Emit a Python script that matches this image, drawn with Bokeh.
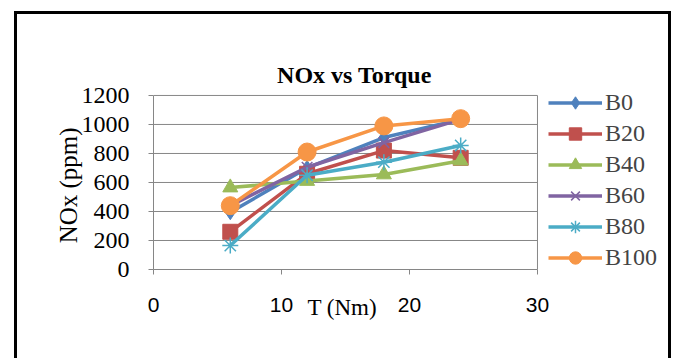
from bokeh.plotting import figure
from bokeh.models import (Legend, LegendItem, Range1d, FixedTicker, InlineStyleSheet,
                          Label, LinearAxis)
from bokeh.embed import file_html
from bokeh.resources import INLINE

torque = [6, 12, 18, 24]
series_names = ["B0", "B20", "B40", "B60", "B80", "B100"]
b0 = [395, 700, 910, 1035]
b20 = [260, 660, 820, 770]
b40 = [565, 610, 655, 750]
b60 = [440, 705, 875, 1035]
b80 = [165, 650, 740, 855]
b100 = [440, 810, 990, 1040]
y_ticks = [0, 200, 400, 600, 800, 1000, 1200]
x_ticks = [0, 10, 20, 30]
x_min, x_max = 0, 30
y_min, y_max = 0, 1200
x_label_pos = 14.75
y_label_pos = 580

colors = ["#4F81BD", "#C0504D", "#9BBB59", "#8064A2", "#4BACC6", "#F79646"]
markers = ["diamond", "square", "triangle", "x", "asterisk", "circle"]
msizes = [15, 15, 15, 15, 16, 18]
mline = [1, 1, 1, 1.5, 1.5, 1]
data = [b0, b20, b40, b60, b80, b100]

# frame: left 153, right 672 (x=30 lands at 537); top 50, bottom 269 (y=1200 lands at 95)
p = figure(width=676, height=358, output_backend="svg", toolbar_location=None,
           x_range=Range1d(0, 40.55), y_range=Range1d(0, 1510),
           min_border_left=153, min_border_right=4, min_border_top=50, min_border_bottom=89)

p.stylesheets = [InlineStyleSheet(css="""
:host { position: relative; }
:host::after {
  content: ""; position: absolute; left: 14px; top: 11px;
  width: 657px; height: 347px; box-sizing: border-box;
  border-top: 3px solid black; border-left: 3px solid black; border-right: 3px solid black;
  pointer-events: none;
}
""")]

p.outline_line_color = None
p.background_fill_color = "white"
p.border_fill_color = "white"
p.xgrid.grid_line_color = None
p.ygrid.grid_line_color = None

# plot-area grid lines and right edge
p.segment(x0=[x_min] * len(y_ticks), x1=[x_max] * len(y_ticks), y0=y_ticks, y1=y_ticks,
          line_color="#868686", line_width=1)
p.segment(x0=[x_max], x1=[x_max], y0=[y_min], y1=[y_max], line_color="#868686", line_width=1)

p.yaxis.ticker = FixedTicker(ticks=y_ticks)
p.xaxis.ticker = FixedTicker(ticks=x_ticks)
p.yaxis.bounds = (y_min, y_max)
p.xaxis.bounds = (x_min, x_max)
p.yaxis.minor_tick_line_color = None
p.xaxis.minor_tick_line_color = None
for ax in (p.xaxis, p.yaxis):
    ax.axis_line_color = "#868686"
    ax.major_tick_line_color = "#868686"
    ax.major_tick_in = 0
    ax.major_tick_out = 5
    ax.major_label_text_color = "black"

p.yaxis.major_label_text_font = "Liberation Serif"
p.yaxis.major_label_text_font_size = "24px"
p.yaxis.major_label_standoff = 19

p.xaxis.major_label_text_font = "Liberation Sans"
p.xaxis.major_label_text_font_size = "21px"
p.xaxis.major_label_standoff = 23

# axis titles placed against the plot area (not the wider frame)
x_lab_axis = LinearAxis(ticker=FixedTicker(ticks=[x_label_pos]),
                        major_label_overrides={x_label_pos: "T (Nm)"},
                        axis_line_color=None, major_tick_line_color=None,
                        minor_tick_line_color=None, major_tick_in=0, major_tick_out=0,
                        major_label_text_font="Liberation Serif",
                        major_label_text_font_size="23px",
                        major_label_text_color="black",
                        major_label_standoff=-20)
p.add_layout(x_lab_axis, "below")

y_lab_axis = LinearAxis(ticker=FixedTicker(ticks=[y_label_pos]),
                        major_label_overrides={y_label_pos: "NOx (ppm)"},
                        axis_line_color=None, major_tick_line_color=None,
                        minor_tick_line_color=None, major_tick_in=0, major_tick_out=0,
                        major_label_text_font="Liberation Serif",
                        major_label_text_font_size="25px",
                        major_label_text_color="black",
                        major_label_orientation="vertical",
                        major_label_standoff=-4)
p.add_layout(y_lab_axis, "left")

title = Label(x=15.7, y=1338, text="NOx vs Torque", text_font="Liberation Serif",
              text_font_size="24px", text_font_style="bold", text_align="center",
              text_baseline="middle", text_color="black")
p.add_layout(title)

items = []
for name, ys, c, m, s, lw in zip(series_names, data, colors, markers, msizes, mline):
    r1 = p.line(torque, ys, line_color=c, line_width=3.5)
    r2 = p.scatter(torque, ys, marker=m, size=s, fill_color=c, line_color=c, line_width=lw)
    items.append(LegendItem(label=name, renderers=[r1, r2]))

legend = Legend(items=items, location=(395, -4), orientation="vertical",
                label_text_font="Liberation Serif", label_text_font_size="24px",
                glyph_width=54, glyph_height=31, label_height=31, label_standoff=3,
                spacing=0, padding=0, margin=0, border_line_color=None,
                background_fill_alpha=0)
p.add_layout(legend, "center")

open("out.html", "w").write(file_html(p, INLINE))
